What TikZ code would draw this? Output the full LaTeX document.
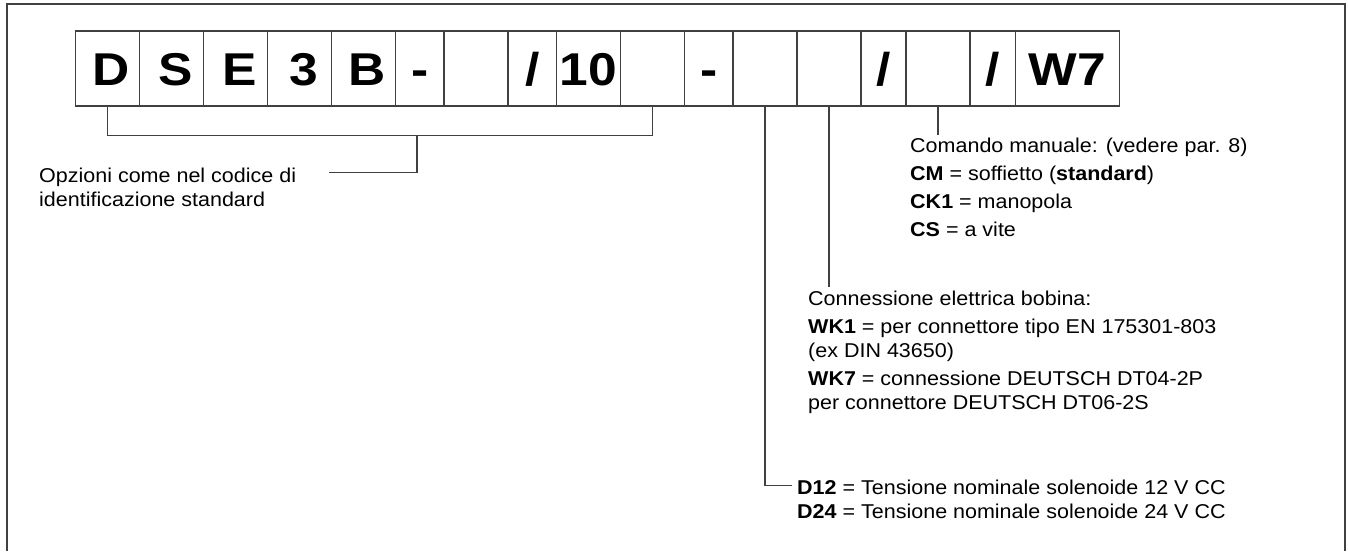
\documentclass[tikz,border=0pt]{standalone}
\usepackage{fontspec}
\setmainfont[FakeStretch=1.075]{Liberation Sans}
\newfontfamily\boxfont[FakeStretch=1.12]{Liberation Sans}
\usetikzlibrary{positioning,calc}

\begin{document}
\begin{tikzpicture}[x=1pt,y=-1pt,
  cell/.style={rectangle,draw=black!75,line width=1.2pt,outer sep=0pt,inner sep=0pt,minimum height=75pt,minimum width=64pt,font=\boxfont\fontsize{46}{46}\selectfont\bfseries,text height=33pt,text depth=0pt},
  letter/.style={cell,execute at begin node={\hspace*{8pt}}},
  thin/.style={cell,minimum width=48.5pt},
  leader/.style={draw=black!75,line width=1.2pt},
  info/.style={anchor=north west,inner sep=0pt,align=left,font=\fontsize{20}{24}\selectfont}]
  \useasboundingbox (0,0) rectangle (1348,551);
  \draw[leader] (7,551) -- (7,4) -- (1345,4) -- (1345,551);
  % code boxes
  \node[letter,anchor=west] (d) at (75.5,68.5) {D};
  \node[letter,right=0pt of d] (s) {S};
  \node[letter,right=0pt of s] (e) {E};
  \node[letter,right=0pt of e] (three) {3};
  \node[letter,right=0pt of three] (b) {B};
  \node[thin,right=0pt of b] (dash1) {-};
  \node[cell,right=0pt of dash1] (gap1) {};
  \node[thin,right=0pt of gap1] (slash1) {/};
  \node[cell,right=0pt of slash1] (ten) {10};
  \node[cell,right=0pt of ten] (gap2) {};
  \node[thin,right=0pt of gap2] (dash2) {-};
  \node[cell,right=0pt of dash2] (volt) {};
  \node[cell,right=0pt of volt] (conn) {};
  \node[thin,minimum width=45pt,right=0pt of conn] (slash2) {/};
  \node[cell,right=0pt of slash2] (manual) {};
  \node[thin,minimum width=45.5pt,right=0pt of manual] (slash3) {/};
  \node[cell,minimum width=104pt,right=0pt of slash3] (w7) {W7};
  % options bracket
  \draw[leader] (d.south) -- ++(0,29.5) -| (gap2.south);
  \coordinate (brk) at (417,135.7);
  \node[info] (opt) at (39,167.8) {Opzioni come nel codice di\\identificazione standard};
  \coordinate (optend) at (329,172.7);
  \draw[leader] (brk) |- (optend);
  % manual override
  \node[info] (cmd) at (910,137.5) {Comando manuale: (vedere par. 8)\\[4pt]\textbf{CM} = soffietto (\textbf{standard})\\[4pt]\textbf{CK1} = manopola\\[4pt]\textbf{CS} = a vite};
  \draw[leader] (manual.south) -- ($(manual.south |- cmd.north)+(0,-3)$);
  % coil connection
  \node[info] (wk) at (808,290.5) {Connessione elettrica bobina:\\[4pt]\textbf{WK1} = per connettore tipo EN 175301-803\\(ex DIN 43650)\\[4pt]\textbf{WK7} = connessione DEUTSCH DT04-2P\\per connettore DEUTSCH DT06-2S};
  \draw[leader] (conn.south) -- ($(conn.south |- wk.north)+(0,-4)$);
  % voltage
  \node[info] (volts) at (797,479.5) {\textbf{D12} = Tensione nominale solenoide 12 V CC\\\textbf{D24} = Tensione nominale solenoide 24 V CC};
  \coordinate (voltend) at (792,485.7);
  \draw[leader] (volt.south) |- (voltend);
\end{tikzpicture}
\end{document}
